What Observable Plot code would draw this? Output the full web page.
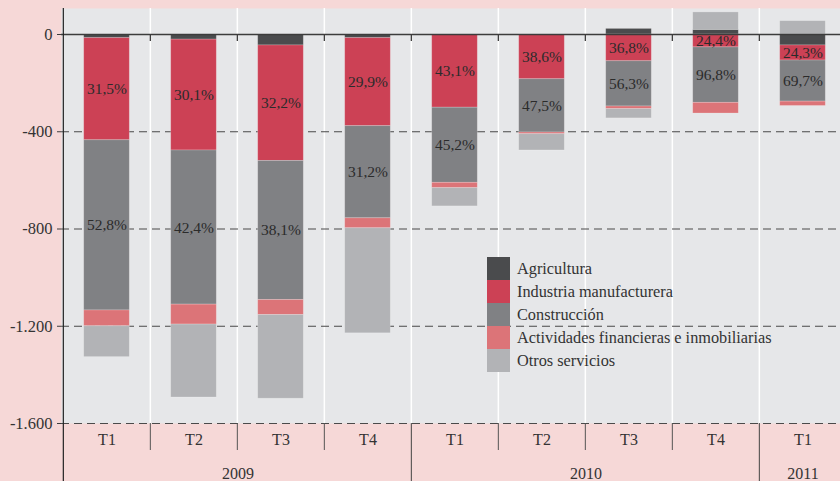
<!DOCTYPE html>
<html>
<head>
<meta charset="utf-8">
<script src="https://cdn.jsdelivr.net/npm/d3@7"></script>
<script src="https://cdn.jsdelivr.net/npm/@observablehq/plot@0.6"></script>
<style>
  html, body { margin: 0; padding: 0; background: #f6d8d7; overflow: hidden; }
  #wrap { position: relative; width: 840px; height: 481px; overflow: hidden; }
  #chart svg { max-width: none !important; }
  #legend { position: absolute; left: 487px; top: 257px; font-family: "Liberation Serif", serif; font-size: 16.3px; color: #333; }
  #legend .row { height: 23px; line-height: 23px; white-space: nowrap; display: flex; align-items: center; }
  #legend .sw { width: 23px; height: 23px; margin-right: 7px; flex: none; }
</style>
</head>
<body>
<div id="wrap"><div id="chart"></div><div id="legend"></div></div>
<script>
// ---- data ----
const quarters = ["T1", "T2", "T3", "T4", "T1", "T2", "T3", "T4", "T1"];
const years = [2009, 2009, 2009, 2009, 2010, 2010, 2010, 2010, 2011];
const seriesNames = ["Agricultura", "Industria manufacturera", "Construcción", "Actividades financieras e inmobiliarias", "Otros servicios"];
const agricultura  = [-15, -21, -45, -15, 0, 0, 23, 19, -45];
const industria    = [-420, -456, -475, -362, -301, -184, -110, -53, -62];
const construccion = [-700, -634, -572, -379, -309, -219, -186, -228, -169];
const financieras  = [-65, -82, -62, -41, -22, -7, -11, -44, -18];
const otros        = [-127, -300, -344, -432, -75, -67, -38, 72, 55];
const industriaPct    = ["31,5%", "30,1%", "32,2%", "29,9%", "43,1%", "38,6%", "36,8%", "24,4%", "24,3%"];
const construccionPct = ["52,8%", "42,4%", "38,1%", "31,2%", "45,2%", "47,5%", "56,3%", "96,8%", "69,7%"];
const yTicks = [0, -400, -800, -1200, -1600];
const colors = ["#4a4b4d", "#cc4155", "#808184", "#dc7478", "#b2b3b6"];

// ---- build table ----
const keys = quarters.map((q, i) => years[i] + " " + q);
const seriesValues = [agricultura, industria, construccion, financieras, otros];
const seriesLabels = [null, industriaPct, construccionPct, null, null];
const rows = [];
seriesNames.forEach((s, si) => {
  keys.forEach((k, i) => {
    rows.push({key: k, serie: s, value: seriesValues[si][i], label: seriesLabels[si] ? seriesLabels[si][i] : null});
  });
});
const yearGroups = Array.from(d3.group(keys, (k) => years[keys.indexOf(k)]), ([y, ks]) => ({year: y, keys: ks}));

const W = 847, H = 481, ML = 61, MR = 0, MT = 8, MB = 58;
const step = (W - ML - MR) / keys.length;
const inset = 20.7;

const esFmt = d3.formatLocale({decimal: ",", thousands: ".", grouping: [3], currency: ["", "€"], minus: "-"}).format(",d");

const boundaryKeys = keys.slice(1);
const yearStartKeys = yearGroups.slice(1).map(g => g.keys[0]);
const quarterSepKeys = boundaryKeys.filter(k => !yearStartKeys.includes(k));

const marks = [
  Plot.frame({fill: "#e6e7e9", stroke: null}),
  Plot.ruleX(boundaryKeys, {x: d => d, dx: -step / 2, stroke: "#ffffff", strokeWidth: 1.5}),
  Plot.ruleY(yTicks.filter(d => d !== 0), {y: d => d, stroke: "#4a4a4a", strokeWidth: 1.2, strokeDasharray: "8,5"}),
  Plot.barY(rows, Plot.stackY({
    x: "key", y: "value", z: "serie", fill: "serie",
    insetLeft: inset, insetRight: inset,
    stroke: "#ffffff", strokeOpacity: 0.25, strokeWidth: 0.8
  })),
  Plot.ruleY([0], {stroke: "#3c3c3c", strokeWidth: 1.3}),
  Plot.ruleX(boundaryKeys, {x: d => d, dx: -step / 2, y1: 0, y2: 0, insetBottom: -7, stroke: "#3c3c3c", strokeWidth: 1.3}),
  Plot.text(rows, Plot.stackY({
    x: "key", y: "value", z: "serie", text: "label",
    fill: "#2b2b2b", fontSize: 15.5, fontFamily: "Liberation Serif"
  })),
  Plot.axisY(yTicks, {tickSize: 4, tickPadding: 5, tickFormat: esFmt, fontSize: 16.5, stroke: "#3c3c3c", fill: "#333", label: null}),
  // left axis line
  Plot.ruleX([keys[0]], {x: d => d, dx: -step / 2, stroke: "#222", strokeWidth: 1.2, insetBottom: -MB}),
  // quarter separators below
  Plot.ruleX(quarterSepKeys, {x: d => d, dx: -step / 2, y1: -1600, y2: -1600, insetBottom: -27, stroke: "#555", strokeWidth: 1}),
  // year separators below
  Plot.ruleX(yearStartKeys, {x: d => d, dx: -step / 2, y1: -1600, y2: -1600, insetBottom: -MB, stroke: "#444", strokeWidth: 1}),
  // quarter labels
  Plot.text(keys, {x: d => d, text: d => d.split(" ")[1], frameAnchor: "bottom", dy: 21, fontSize: 16, fill: "#333"}),
  // year labels
  ...yearGroups.map(g => Plot.text([g.year], {
    x: () => g.keys[0], text: d => String(d), dx: (g.keys.length - 1) * step / 2,
    frameAnchor: "bottom", dy: 55, fontSize: 16, fill: "#333"
  }))
];

const chart = Plot.plot({
  width: W, height: H,
  marginLeft: ML, marginRight: MR, marginTop: MT, marginBottom: MB,
  style: {background: "transparent", fontFamily: "Liberation Serif", fontSize: "15px", color: "#333", overflow: "visible", maxWidth: "none"},
  x: {type: "band", domain: keys, padding: 0, axis: null},
  y: {domain: [-1600, 107], axis: null},
  color: {domain: seriesNames, range: colors},
  marks
});
document.getElementById("chart").appendChild(chart);

// legend
const legend = document.getElementById("legend");
seriesNames.forEach((s, i) => {
  const row = document.createElement("div");
  row.className = "row";
  const sw = document.createElement("div");
  sw.className = "sw";
  sw.style.background = colors[i];
  const t = document.createElement("span");
  t.textContent = s;
  row.appendChild(sw);
  row.appendChild(t);
  legend.appendChild(row);
});
</script>
</body>
</html>
